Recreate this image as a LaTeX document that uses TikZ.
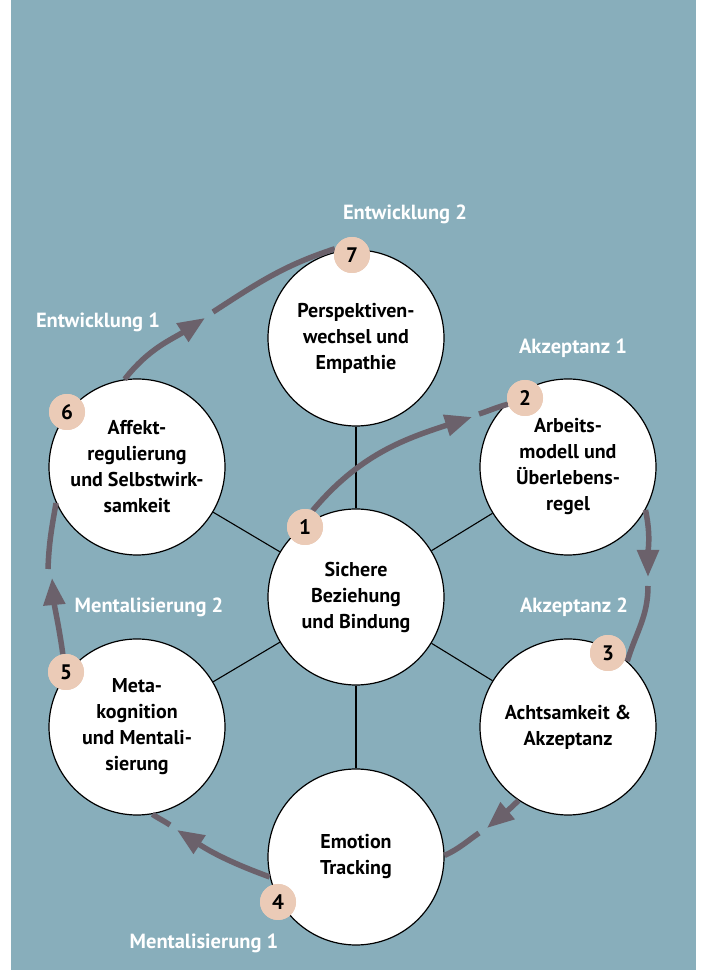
\documentclass[tikz,border=0pt]{standalone}
\usepackage{fontspec}
\setmainfont{PT Sans}
\usetikzlibrary{arrows.meta}
\definecolor{panelblue}{HTML}{88AEBB}
\definecolor{flowgray}{HTML}{6B616B}
\definecolor{badgepeach}{HTML}{EBCBB7}
\begin{document}
\begin{tikzpicture}[x=1pt, y=1pt,
	topic/.style={circle, draw=black, line width=1.2pt, fill=white, minimum size=176pt, inner sep=0pt, align=center, font=\fontsize{20}{26}\selectfont\bfseries},
	badge/.style={circle, fill=badgepeach, minimum size=36pt, inner sep=0pt, font=\fontsize{21}{22}\selectfont\bfseries},
	phase/.style={text=white, font=\fontsize{20.5}{22}\selectfont\bfseries},
	spoke/.style={draw=black, line width=1.1pt},
	flow/.style={draw=flowgray, line width=5.5pt, -{Triangle[length=27pt, width=21pt]}},
	stub/.style={draw=flowgray, line width=5.5pt}]
	\useasboundingbox (0, 0) rectangle (705, 970);
	\fill[white] (0, 0) rectangle (705, 970);
	\fill[panelblue] (11, 0) rectangle (696, 970);
	% topics
	\node (c0) at (356, 373)	[topic]	{Sichere\\Beziehung\\und Bindung};
	\node (c7) at (356, 632)	[topic]	{Perspektiven-\\wechsel und\\Empathie};
	\node (c2) at (568, 503)	[topic]	{Arbeits-\\modell und\\Überlebens-\\regel};
	\node (c3) at (568, 243)	[topic]	{Achtsamkeit \&\\Akzeptanz};
	\node (c4) at (356, 113)	[topic]	{Emotion\\Tracking};
	\node (c5) at (137, 243)	[topic]	{Meta-\\kognition\\und Mentali-\\sierung};
	\node (c6) at (137, 503)	[topic]	{Affekt-\\regulierung\\und Selbstwirk-\\samkeit};
	\draw[spoke] (c0) -- (c7);
	\draw[spoke] (c0) -- (c2);
	\draw[spoke] (c0) -- (c3);
	\draw[spoke] (c0) -- (c4);
	\draw[spoke] (c0) -- (c5);
	\draw[spoke] (c0) -- (c6);
	% arrow tips and stub starts
	\coordinate (t1) at (472, 553);	\coordinate (s1) at (479, 556);
	\coordinate (t2) at (648, 393);	\coordinate (s2) at (648, 384);
	\coordinate (t3) at (487, 142);	\coordinate (s3) at (479, 137);
	\coordinate (t4) at (177, 140);	\coordinate (s4) at (170, 145);
	\coordinate (t5) at (52, 392);	\coordinate (s5) at (48, 401);
	\coordinate (t6) at (205, 652);	\coordinate (s6) at (213, 658);
	% badges first so their anchors exist
	\node (b1) at (305, 443)	[badge]	{1};
	\node (b2) at (525, 572)	[badge]	{2};
	\node (b3) at (608, 317)	[badge]	{3};
	\node (b4) at (278, 68)	[badge]	{4};
	\node (b5) at (66, 298)	[badge]	{5};
	\node (b6) at (67, 558)	[badge]	{6};
	\node (b7) at (352, 715)	[badge]	{7};
	\draw[flow] (b1.65) to[out=50, in=198] (t1);
	\draw[stub] (s1) to[out=18, in=195] (b2.200);
	\draw[flow] (c2.-29) to[out=-78, in=90] (t2);
	\draw[stub] (s2) to[out=-90, in=73] (c3.48);
	\draw[flow] (c3.236) to[out=-135, in=40] (t3);
	\draw[stub] (s3) to[out=-145, in=25] (c4.1);
	\draw[flow] (c4.193) to[out=160, in=-33] (t4);
	\draw[stub] (s4) to[out=146, in=-34] (c5.-80);
	\draw[flow] (b5.100) to[out=98, in=-85] (t5);
	\draw[stub] (s5) to[out=88, in=-100] (c6.204);
	\draw[flow] (c6.98) to[out=52, in=-147] (t6);
	\draw[stub] (s6) to[out=33, in=198] (b7.160);
	% badges again on top of the arrow ends
	\node at (b1) [badge] {1};
	\node at (b2) [badge] {2};
	\node at (b3) [badge] {3};
	\node at (b4) [badge] {4};
	\node at (b5) [badge] {5};
	\node at (b6) [badge] {6};
	\node at (b7) [badge] {7};
	% phases
	\node (p7) at (405, 756)	[phase]	{Entwicklung 2};
	\node (p6) at (98, 648)	[phase]	{Entwicklung 1};
	\node (p2) at (573, 622)	[phase]	{Akzeptanz 1};
	\node (p3) at (574, 363)	[phase]	{Akzeptanz 2};
	\node (p5) at (149, 363)	[phase]	{Mentalisierung 2};
	\node (p4) at (204, 27)	[phase]	{Mentalisierung 1};
\end{tikzpicture}
\end{document}
